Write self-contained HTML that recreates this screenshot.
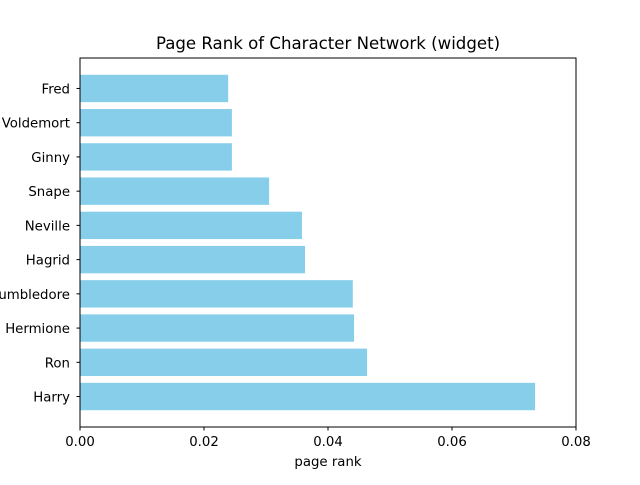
<!DOCTYPE html>
<html><head><meta charset="utf-8"><style>body{margin:0;background:#fff}svg{font-family:"DejaVu Sans",sans-serif}</style></head>
<body>
<svg id="chart" width="640" height="480">
<rect width="640" height="480" fill="#fff"/>
<text x="328" y="49" text-anchor="middle" font-size="16.6">Page Rank of Character Network (widget)</text>
<g id="bars"></g>
<g id="axes"></g>
<rect x="80" y="58" width="496" height="369" fill="none" stroke="#000" stroke-width="1"/>
<text x="328" y="466" text-anchor="middle" font-size="13.3">page rank</text>
</svg>
<script>
const categories = ["Harry","Ron","Hermione","Dumbledore","Hagrid","Neville","Snape","Ginny","Voldemort","Fred"];
const values = [0.0734,0.0463,0.0442,0.0440,0.0363,0.0358,0.0305,0.0245,0.0245,0.0239];
const xTicks = [0,0.02,0.04,0.06,0.08];
const xTickLabels = ["0.00","0.02","0.04","0.06","0.08"];
const L=80,R=576,T=58,B=427;
const xMin=0,xMax=0.08,yMin=-0.89,yMax=categories.length-1+0.89;
const x=v=>L+(v-xMin)/(xMax-xMin)*(R-L);
const y=i=>B-(i-yMin)/(yMax-yMin)*(B-T);
const bh=0.8*(B-T)/(yMax-yMin);
const ns="http://www.w3.org/2000/svg";
const bars=document.getElementById('bars'),axes=document.getElementById('axes');
function mk(t,a,p){const e=document.createElementNS(ns,t);for(const k in a)e.setAttribute(k,a[k]);p.appendChild(e);return e;}
categories.forEach((c,i)=>{
 const r=mk('rect',{x:x(0),y:y(i)-bh/2,width:x(values[i])-x(0),height:bh,fill:'#87ceeb'},bars);
 
 
 const tk=mk('line',{x1:L-3.5,x2:L,y1:y(i),y2:y(i),stroke:'#000'},axes);
 
 
 const t=mk('text',{x:L-10,y:y(i)+5,'text-anchor':'end','font-size':'13.3'},axes);
 t.textContent=c;
 
 
});
xTicks.forEach((v,i)=>{
 const tk=mk('line',{x1:x(v),x2:x(v),y1:B,y2:B+3.5,stroke:'#000'},axes);
 
 
 const t=mk('text',{x:x(v),y:B+19,'text-anchor':'middle','font-size':'13.3'},axes);
 t.textContent=xTickLabels[i];
 
 
});
</script>
</body></html>
